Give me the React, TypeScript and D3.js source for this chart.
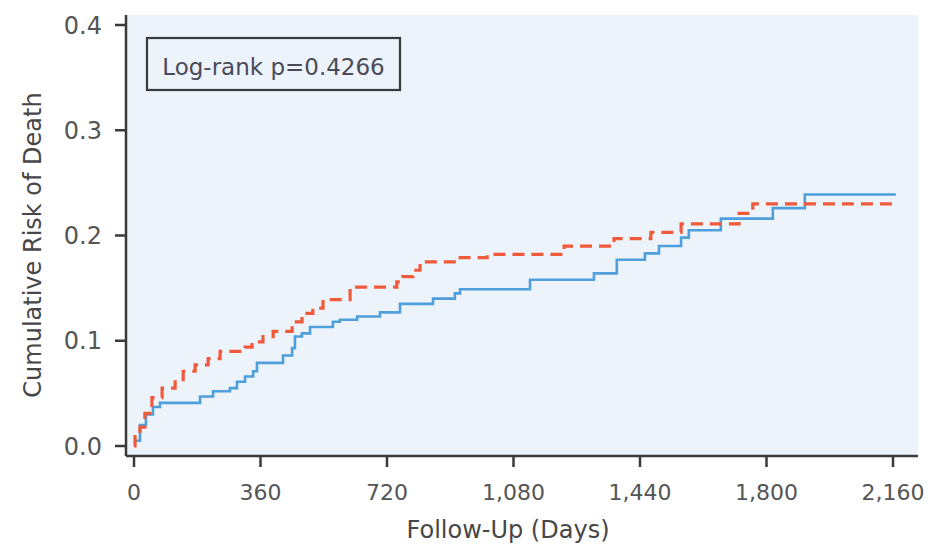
import React from "react";
import * as d3 from "d3";

const blueDays = [0, 17, 34, 54, 74, 188, 225, 273, 293, 316, 339, 350, 424, 450, 458, 478, 501, 566, 586, 635, 700, 757, 851, 913, 928, 1127, 1309, 1374, 1454, 1494, 1557, 1579, 1670, 1818, 1909, 2168];
const blueRisk = [0.005, 0.02, 0.03, 0.037, 0.041, 0.047, 0.052, 0.055, 0.061, 0.066, 0.071, 0.079, 0.086, 0.093, 0.104, 0.107, 0.113, 0.118, 0.12, 0.123, 0.127, 0.135, 0.14, 0.145, 0.149, 0.158, 0.164, 0.177, 0.183, 0.19, 0.198, 0.205, 0.216, 0.226, 0.239, 0.239];

const redDays = [0, 3, 17, 31, 51, 80, 117, 140, 174, 211, 245, 316, 336, 367, 396, 450, 478, 509, 538, 615, 748, 765, 794, 814, 922, 1005, 1224, 1366, 1471, 1557, 1722, 1761, 2168];
const redRisk = [0.0, 0.009, 0.018, 0.031, 0.046, 0.055, 0.061, 0.071, 0.077, 0.083, 0.09, 0.094, 0.099, 0.104, 0.109, 0.118, 0.126, 0.131, 0.139, 0.151, 0.156, 0.161, 0.167, 0.175, 0.179, 0.182, 0.19, 0.197, 0.203, 0.211, 0.221, 0.23, 0.23];

const xTicks = [0, 360, 720, 1080, 1440, 1800, 2160];
const yTicks = [0.0, 0.1, 0.2, 0.3, 0.4];
const pText = "Log-rank p=0.4266";
const xTitle = "Follow-Up (Days)";
const yTitle = "Cumulative Risk of Death";

const W = 930;
const H = 545;
const left = 126;
const right = 918;
const top = 15;
const bottom = 456;

const FONT = "'DejaVu Sans', sans-serif";
const AXIS = "#3a3a3a";
const LABEL = "#555555";

export default function App() {
  const x = d3.scaleLinear().domain([0, 2160]).range([134, 893]);
  const y = d3.scaleLinear().domain([0, 0.4]).range([446, 25]);

  const line = d3
    .line<[number, number]>()
    .x((d) => x(d[0]))
    .y((d) => y(d[1]))
    .curve(d3.curveStepAfter);

  const blue: [number, number][] = blueDays.map((d, i) => [d, blueRisk[i]]);
  const red: [number, number][] = redDays.map((d, i) => [d, redRisk[i]]);
  const fmt = d3.format(",");

  return (
    <svg
      width={W}
      height={H}
      style={{ position: "absolute", left: 0, top: 0, background: "#fff" }}
    >
      <rect x={left} y={top} width={right - left} height={bottom - top} fill="#ecf3fb" />
      <path d={line(blue) || ""} fill="none" stroke="#4e9fdb" strokeWidth={2.6} />
      <path
        d={line(red) || ""}
        fill="none"
        stroke="#ef5a3b"
        strokeWidth={3.2}
        strokeDasharray="12,7"
      />
      <line x1={left} x2={left} y1={top} y2={bottom} stroke={AXIS} strokeWidth={2.5} />
      <line x1={left} x2={right} y1={bottom} y2={bottom} stroke={AXIS} strokeWidth={2.5} />
      {yTicks.map((t) => (
        <g key={"y" + t}>
          <line x1={left - 11} x2={left} y1={y(t)} y2={y(t)} stroke={AXIS} strokeWidth={2.5} />
          <text
            x={102}
            y={y(t)}
            dy="0.36em"
            textAnchor="end"
            fontFamily={FONT}
            fontSize={24}
            fill={LABEL}
          >
            {t.toFixed(1)}
          </text>
        </g>
      ))}
      {xTicks.map((t) => (
        <g key={"x" + t}>
          <line x1={x(t)} x2={x(t)} y1={bottom} y2={bottom + 11} stroke={AXIS} strokeWidth={2.5} />
          <text
            x={x(t)}
            y={500}
            textAnchor="middle"
            fontFamily={FONT}
            fontSize={22}
            fill={LABEL}
          >
            {fmt(t)}
          </text>
        </g>
      ))}
      <text
        x={508}
        y={538}
        textAnchor="middle"
        fontFamily={FONT}
        fontSize={24}
        fill="#474747"
      >
        {xTitle}
      </text>
      <text
        transform={`translate(41,${245}) rotate(-90)`}
        textAnchor="middle"
        fontFamily={FONT}
        fontSize={24}
        fill="#474747"
      >
        {yTitle}
      </text>
      <rect x={147} y={38} width={253} height={52} fill="none" stroke={AXIS} strokeWidth={2.2} />
      <text
        x={273.5}
        y={75}
        textAnchor="middle"
        fontFamily={FONT}
        fontSize={23}
        fill="#4a4a58"
      >
        {pText}
      </text>
    </svg>
  );
}
